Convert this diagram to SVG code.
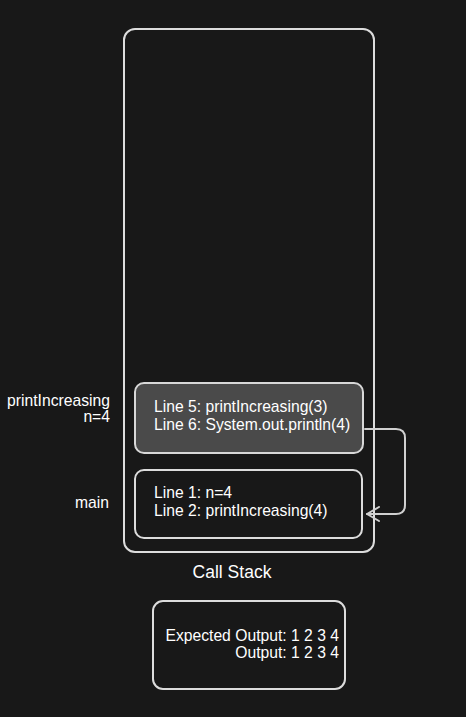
<svg xmlns="http://www.w3.org/2000/svg" width="466" height="717" viewBox="0 0 466 717">
<defs>
<style>
.box{fill:none;stroke:#dcdcdc;stroke-width:2}
.t{font-family:"Liberation Sans",Arial,sans-serif;font-size:15.7px;fill:#ffffff}
.r{text-anchor:end}
.conn{fill:none;stroke:#d0d0d0;stroke-width:2;stroke-linecap:round;stroke-linejoin:round}
</style>
<marker id="arr" viewBox="0 0 14 16" refX="13" refY="8" markerWidth="14" markerHeight="16" markerUnits="userSpaceOnUse" orient="auto">
<path d="M1,1 L13,8 L1,15" fill="none" stroke="#d0d0d0" stroke-width="2" stroke-linecap="round" stroke-linejoin="round"/>
</marker>
</defs>
<rect width="466" height="717" fill="#181818"/>
<g id="callstack">
<rect class="box" x="124" y="29" width="250" height="523" rx="11"/>
<text class="t" x="232" y="578" text-anchor="middle" style="font-size:17.5px">Call Stack</text>
</g>
<g id="frame-printIncreasing">
<rect x="135" y="383" width="228" height="70" rx="9" fill="#4a4a4a" stroke="#d8d8d8" stroke-width="2"/>
<text class="t" x="154" y="412">Line 5: printIncreasing(3)</text>
<text class="t" x="154" y="430">Line 6: System.out.println(4)</text>
<text class="t r" x="110" y="406">printIncreasing</text>
<text class="t r" x="110" y="422">n=4</text>
</g>
<g id="frame-main">
<rect class="box" x="135" y="470" width="227" height="68" rx="9"/>
<text class="t" x="154" y="498">Line 1: n=4</text>
<text class="t" x="154" y="516">Line 2: printIncreasing(4)</text>
<text class="t r" x="109" y="508">main</text>
</g>
<g id="output">
<rect class="box" x="153" y="601" width="192" height="88" rx="10"/>
<text class="t r" x="339" y="641">Expected Output: 1 2 3 4</text>
<text class="t r" x="339" y="658">Output: 1 2 3 4</text>
</g>
<g id="connectors">
<path class="conn" d="M365,429 L396,429 Q405,429 405,438 L405,505 Q405,514 396,514 L367,514" marker-end="url(#arr)"/>
</g>
</svg>
